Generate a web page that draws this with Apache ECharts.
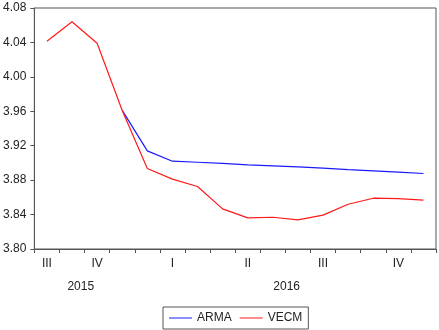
<!DOCTYPE html>
<html>
<head>
<meta charset="utf-8">
<script src="https://cdn.jsdelivr.net/npm/echarts@6/dist/echarts.min.js"></script>
<style>
  html, body { margin: 0; padding: 0; background: #fff; }
  #chart { width: 439px; height: 330px; }
</style>
</head>
<body>
<div id="chart"></div>
<script>
// monthly slots, Aug 2015 .. Nov 2016
const months = ['2015-08', '2015-09', '2015-10', '2015-11', '2015-12',
  '2016-01', '2016-02', '2016-03', '2016-04', '2016-05', '2016-06',
  '2016-07', '2016-08', '2016-09', '2016-10', '2016-11']
const quarterLabels = ['III', '', 'IV', '', '', 'I', '', '', 'II', '', '', 'III', '', '', 'IV', '']
const yearLabels = ['2015', '2016']
const yearSlots = [1.85, 10.05]

const arma = [null, null, null, 3.961, 3.914, 3.902, 3.9008, 3.8994, 3.8978, 3.8966,
  3.8954, 3.894, 3.8922, 3.8908, 3.8894, 3.8877]
const vecm = [4.0414, 4.064, 4.039, 3.961, 3.8935, 3.8812, 3.8726, 3.8466, 3.8361, 3.8369,
  3.8338, 3.8393, 3.852, 3.859, 3.8586, 3.8567]

const yTicks = { min: 3.80, max: 4.08, interval: 0.04 }

const font = '"Liberation Sans", Arial, sans-serif'
const ink = '#222'
const frame = '#555'

const chart = echarts.init(document.getElementById('chart'), null, { renderer: 'canvas' })

chart.setOption({
  animation: false,
  textStyle: { fontFamily: font, color: ink },
  grid: {
    left: 33, right: 3, top: 8, bottom: 81,
    show: true, borderColor: frame, borderWidth: 1, backgroundColor: 'transparent'
  },
  legend: {
    left: 163, top: 307,
    padding: [5, 6, 5, 6],
    borderColor: frame, borderWidth: 1,
    itemWidth: 23, itemHeight: 1, itemGap: 8,
    icon: 'rect',
    textStyle: { fontFamily: font, fontSize: 12, color: ink, padding: [0, 0, 0, 0] },
    data: ['ARMA', 'VECM']
  },
  xAxis: [{
    type: 'category',
    data: months,
    boundaryGap: true,
    axisLine: { lineStyle: { color: frame, width: 1 } },
    axisTick: { show: true, interval: 0, length: 4, lineStyle: { color: frame } },
    axisLabel: {
      interval: 0, margin: 9, fontSize: 12, color: ink, fontFamily: font,
      formatter: (v, i) => quarterLabels[i]
    },
    splitLine: { show: false }
  }, {
    type: 'value',
    position: 'bottom',
    min: 0, max: months.length,
    axisLine: { show: false },
    axisTick: { show: false },
    splitLine: { show: false },
    axisLabel: {
      customValues: yearSlots,
      margin: 32, fontSize: 12, color: ink, fontFamily: font,
      formatter: (v) => yearLabels[yearSlots.indexOf(v)] || ''
    }
  }],
  yAxis: {
    type: 'value',
    min: yTicks.min, max: yTicks.max, interval: yTicks.interval,
    axisLine: { show: true, lineStyle: { color: frame, width: 1 } },
    axisTick: { show: true, length: 4, lineStyle: { color: frame } },
    axisLabel: {
      margin: 8, fontSize: 12, color: ink, fontFamily: font,
      formatter: (v) => v.toFixed(2)
    },
    splitLine: { show: false }
  },
  series: [{
    name: 'ARMA',
    type: 'line',
    data: arma,
    symbol: 'none',
    color: '#1a1aff',
    lineStyle: { width: 1.2, color: '#1a1aff' }
  }, {
    name: 'VECM',
    type: 'line',
    data: vecm,
    symbol: 'none',
    color: '#ff1a1a',
    lineStyle: { width: 1.2, color: '#ff1a1a' }
  }]
})
</script>
</body>
</html>
